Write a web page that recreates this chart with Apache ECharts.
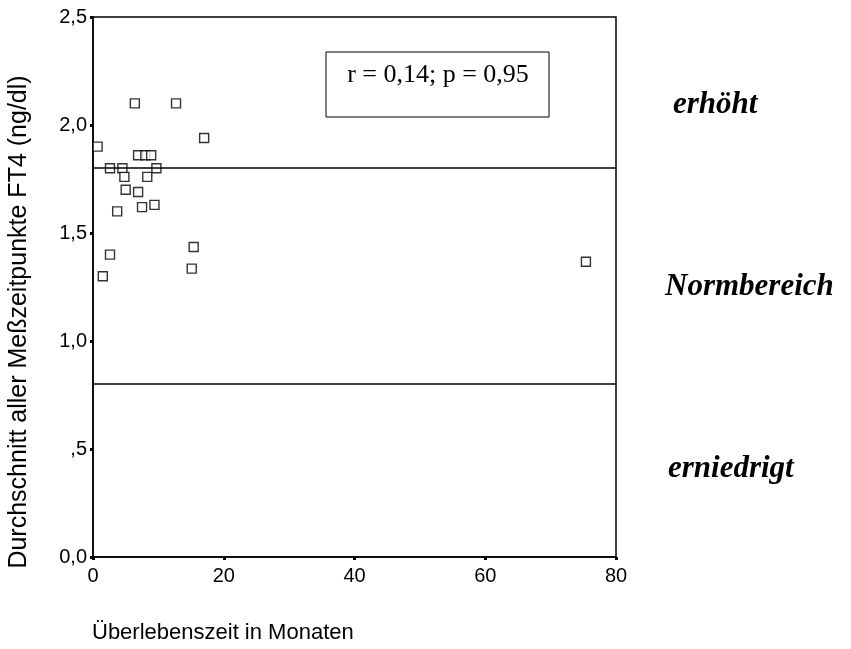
<!DOCTYPE html>
<html>
<head>
<meta charset="utf-8">
<script src="https://cdn.jsdelivr.net/npm/echarts@6/dist/echarts.min.js"></script>
<style>
  html, body { margin: 0; padding: 0; background: #fff; }
  #main { width: 851px; height: 649px; }
</style>
</head>
<body>
<div id="main"></div>
<script>
// Überlebenszeit (Monate) vs. FT4-Mittelwert
var monate = [6.4, 12.7, 0.7, 17.0, 6.9, 8.0, 8.9, 2.6, 4.5, 9.7, 4.8, 8.3, 5.0, 6.9, 7.5, 9.4, 3.7, 15.4, 2.6, 15.1, 1.5, 75.4];
var ft4 = [2.10, 2.10, 1.90, 1.94, 1.86, 1.86, 1.86, 1.80, 1.80, 1.80, 1.76, 1.76, 1.70, 1.69, 1.62, 1.63, 1.60, 1.435, 1.40, 1.335, 1.30, 1.367];
var grenzen = [1.8, 0.8];
var bereiche = ['erhöht', 'Normbereich', 'erniedrigt'];
var xTicks = [0, 20, 40, 60, 80];
var yTicks = ['0,0', ',5', '1,0', '1,5', '2,0', '2,5'];
var xTitel = 'Überlebenszeit in Monaten';
var yTitel = 'Durchschnitt aller Meßzeitpunkte FT4 (ng/dl)';
var statText = 'r = 0,14; p = 0,95';

var punkte = monate.map(function(m, i) { return [m, ft4[i]]; });

var chart = echarts.init(document.getElementById('main'));
var option = {
  animation: false,
  backgroundColor: '#fff',
  grid: {
    left: 93, right: 235, top: 17, bottom: 92,
    show: true, borderColor: '#000', borderWidth: 1.5, backgroundColor: 'transparent'
  },
  xAxis: {
    type: 'value', min: 0, max: 80, interval: 20,
    axisLine: { show: true, lineStyle: { color: '#000', width: 1.5 } },
    axisTick: { show: true, length: 3, inside: false, lineStyle: { color: '#000', width: 3 } },
    splitLine: { show: false },
    axisLabel: {
      fontFamily: 'Liberation Sans', fontSize: 20, color: '#000', margin: 9,
      formatter: function(v) { return xTicks.indexOf(v) >= 0 ? String(v) : ''; }
    }
  },
  yAxis: {
    type: 'value', min: 0, max: 2.5, interval: 0.5,
    axisLine: { show: true, lineStyle: { color: '#000', width: 1.5 } },
    axisTick: { show: true, length: 3, inside: false, lineStyle: { color: '#000', width: 3 } },
    splitLine: { show: false },
    axisLabel: {
      fontFamily: 'Liberation Sans', fontSize: 20, color: '#000', margin: 6,
      formatter: function(v) { return yTicks[Math.round(v / 0.5)]; }
    }
  },
  series: [{
    type: 'scatter',
    data: punkte,
    symbol: 'rect',
    symbolSize: 9,
    itemStyle: { color: '#fff', borderColor: '#000', borderWidth: 1.4 },
    markLine: {
      silent: true,
      symbol: ['none', 'none'],
      label: { show: false },
      lineStyle: { color: '#000', width: 1.5, type: 'solid' },
      data: grenzen.map(function(g) { return { yAxis: g }; })
    },
    z: 3
  }],
  graphic: [
    {
      type: 'text', x: 19, y: 322, rotation: Math.PI / 2,
      style: {
        text: yTitel, fill: '#000', align: 'center', verticalAlign: 'middle',
        font: '25px "Liberation Sans"'
      }
    },
    {
      type: 'text', x: 92, y: 633,
      style: {
        text: xTitel, fill: '#000', align: 'left', verticalAlign: 'middle',
        font: '22px "Liberation Sans"'
      }
    },
    {
      type: 'rect',
      shape: { x: 326, y: 52, width: 223, height: 65 },
      style: { fill: '#fff', stroke: '#000', lineWidth: 1 },
      z: 10
    },
    {
      type: 'text', x: 438, y: 75, z: 11,
      style: {
        text: statText, fill: '#000', align: 'center', verticalAlign: 'middle',
        font: '26px "Liberation Serif"'
      }
    },
    {
      type: 'text', x: 673, y: 105,
      style: { text: bereiche[0], fill: '#000', verticalAlign: 'middle', font: 'italic bold 31px "Liberation Serif"' }
    },
    {
      type: 'text', x: 665, y: 287,
      style: { text: bereiche[1], fill: '#000', verticalAlign: 'middle', font: 'italic bold 31px "Liberation Serif"' }
    },
    {
      type: 'text', x: 668, y: 469,
      style: { text: bereiche[2], fill: '#000', verticalAlign: 'middle', font: 'italic bold 31px "Liberation Serif"' }
    }
  ]
};
chart.setOption(option);
</script>
</body>
</html>
